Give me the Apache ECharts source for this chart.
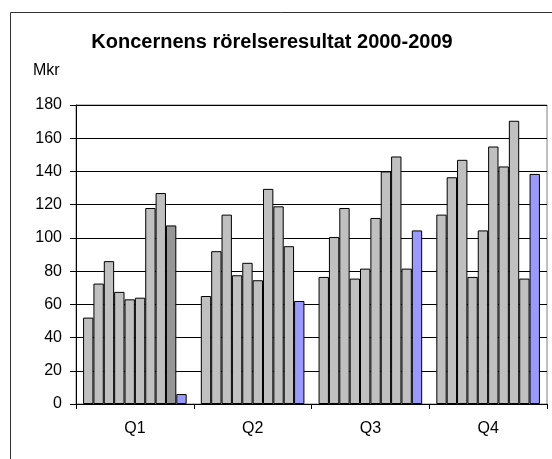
<!DOCTYPE html>
<html>
<head>
<meta charset="utf-8">
<script src="https://cdn.jsdelivr.net/npm/echarts@6/dist/echarts.min.js"></script>
<style>html,body{margin:0;padding:0;background:#fff;}#c{width:552px;height:459px;}</style>
</head>
<body>
<div id="c"></div>
<script>
const categories = ['Q1', 'Q2', 'Q3', 'Q4'];
const years = ['2000','2001','2002','2003','2004','2005','2006','2007','2008','2009'];
const y2000 = [52, 65, 76.5, 114];
const y2001 = [72.5, 92, 100.5, 136.5];
const y2002 = [86, 114, 118, 147];
const y2003 = [67.5, 77.5, 75.5, 76.5];
const y2004 = [63, 85, 81.5, 104.5];
const y2005 = [64, 74.5, 112, 155];
const y2006 = [118, 129.5, 140, 143];
const y2007 = [127, 119, 149, 170.5];
const y2008 = [107.5, 95, 81.5, 75.5];
const y2009 = [6, 62, 104.5, 138.5];
const yTicks = [0, 20, 40, 60, 80, 100, 120, 140, 160, 180];

const values = [y2000,y2001,y2002,y2003,y2004,y2005,y2006,y2007,y2008,y2009];
const FONT = '"Liberation Sans", Arial, sans-serif';

const series = values.map((arr, i) => ({
  name: years[i],
  type: 'bar',
  barGap: '0%',
  barCategoryGap: '12%',
  data: arr.map((v, j) => {
    const d = { value: v };
    if (i === 8 && j === 0) d.itemStyle = { color: '#969696' };
    return d;
  }),
  itemStyle: {
    color: i === 9 ? '#9999FF' : '#C0C0C0',
    borderColor: '#000',
    borderWidth: 1
  },
  emphasis: { disabled: true },
  animation: false
}));

const chart = echarts.init(document.getElementById('c'), null, { renderer: 'canvas' });
chart.setOption({
  animation: false,
  backgroundColor: '#fff',
  title: {
    text: 'Koncernens rörelseresultat 2000-2009',
    left: 267, top: 27, textAlign: 'center',
    textStyle: { fontFamily: FONT, fontWeight: 'bold', fontSize: 20, color: '#000' }
  },
  graphic: [
    { type: 'rect', shape: { x: 10.5, y: 12.5, width: 600, height: 500 },
      style: { fill: 'none', stroke: '#333', lineWidth: 1 }, silent: true, z: -1 },
    { type: 'text', left: 33, top: 63,
      style: { text: 'Mkr', font: '16px ' + FONT, fill: '#000' } }
  ],
  grid: {
    left: 76, right: 5, top: 105, bottom: 55,
    show: true, borderColor: '#808080', borderWidth: 1, backgroundColor: 'transparent'
  },
  xAxis: {
    type: 'category',
    data: categories,
    axisLine: { lineStyle: { color: '#000', width: 1 } },
    axisTick: { show: true, length: 5, alignWithLabel: false, lineStyle: { color: '#000' } },
    axisLabel: { fontFamily: FONT, fontSize: 16, color: '#000', margin: 17 },
    splitLine: { show: false }
  },
  yAxis: {
    type: 'value',
    min: yTicks[0], max: yTicks[yTicks.length - 1], interval: 20,
    axisLine: { show: true, lineStyle: { color: '#000', width: 1 } },
    axisTick: { show: true, length: 6, inside: false, lineStyle: { color: '#000' } },
    axisLabel: { fontFamily: FONT, fontSize: 16, color: '#000', margin: 14 },
    splitLine: { show: true, lineStyle: { color: '#000', width: 1 } }
  },
  series: series
});
</script>
</body>
</html>
